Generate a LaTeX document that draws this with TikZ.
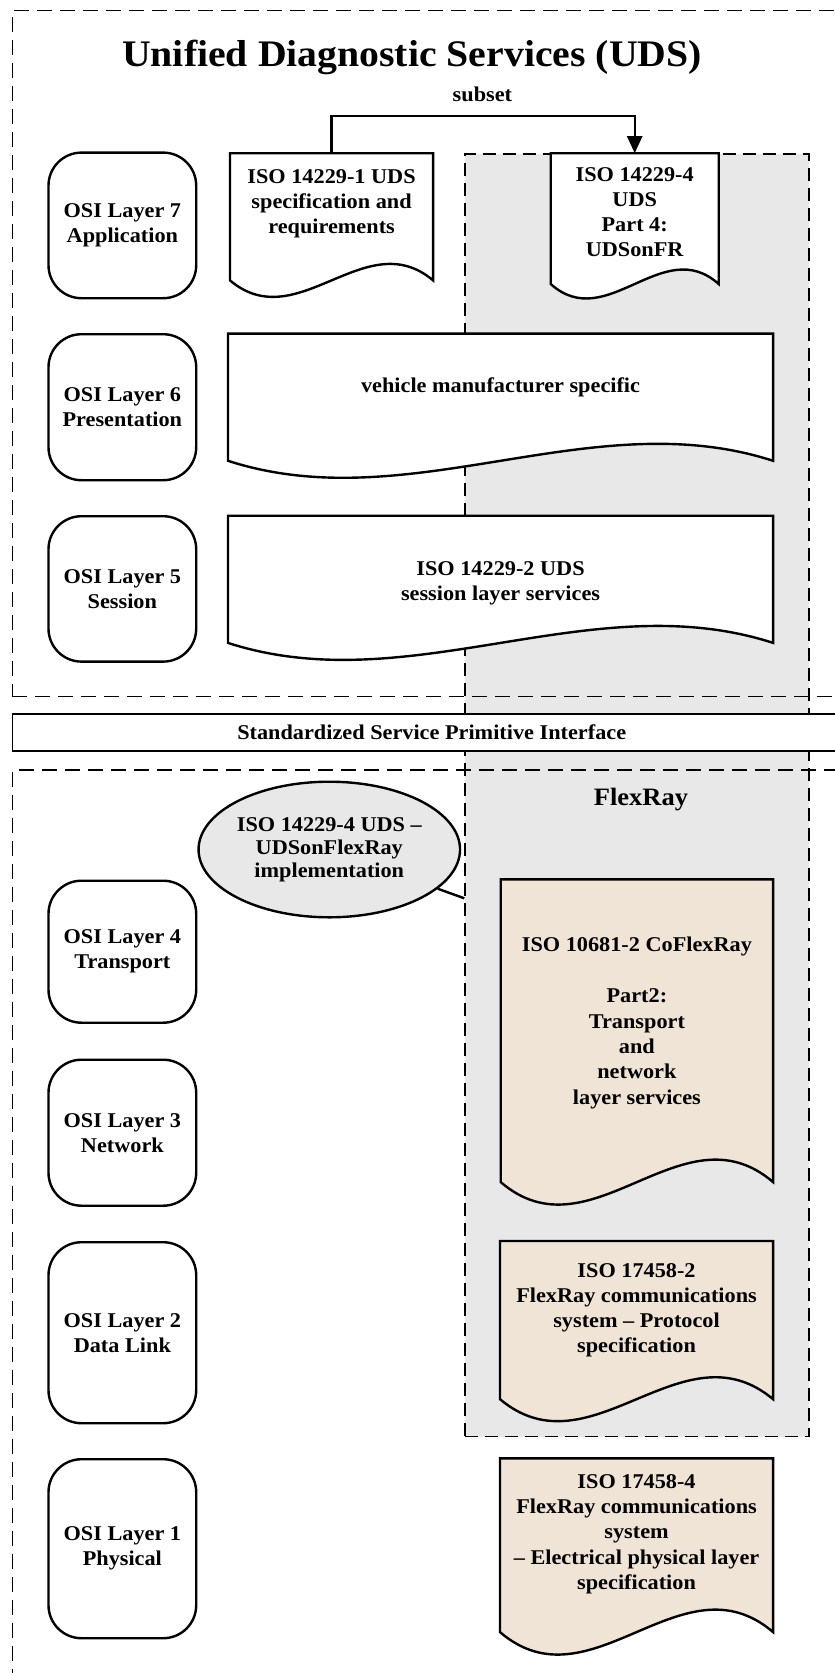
\documentclass[tikz,border=0pt]{standalone}
\usepackage{fontspec}
\setmainfont{Liberation Serif}[FakeStretch=1.06]
\usetikzlibrary{arrows.meta,calc,shapes.geometric}
\pgfdeclarelayer{bg}
\pgfsetlayers{bg,main}
\definecolor{zonegray}{RGB}{232,232,232}
\definecolor{beige}{RGB}{240,228,214}
\newcommand{\bdyfont}{\fontsize{21}{25}\selectfont\bfseries}
\newcommand{\docwave}[4][white]{%
  \path[docline, fill=#1] (#2.north west) -- (#2.north east) -- ($(#2.south east)+(0,#3)$)
   .. controls ($(#2.south west)!0.667!(#2.south east)+(0,{#3-3.46*#4})$)
   and ($(#2.south west)!0.333!(#2.south east)+(0,{#3+3.46*#4})$)
   .. ($(#2.south west)+(0,#3)$) -- cycle;}
\tikzset{
  frame/.style={draw, line width=1.4pt, dash pattern=on 15pt off 8pt, anchor=north west, inner sep=0pt},
  zone/.style={fill=zonegray, draw, line width=1.4pt, dash pattern=on 13pt off 7pt, anchor=north west, inner sep=0pt},
  osi/.style={draw, line width=2.4pt, rounded corners=33pt, minimum width=147.7pt, anchor=north west, align=center, font=\bdyfont, inner sep=0pt},
  doc/.style={anchor=north west, align=center, font=\bdyfont, inner sep=0pt},
  docline/.style={draw, line width=2.4pt, line join=miter},
  conn/.style={line width=2.4pt},
}
\begin{document}
\begin{tikzpicture}[x=1pt,y=-1pt]
\useasboundingbox (0,0) rectangle (835,1673);
\begin{pgfonlayer}{bg}
  \fill[white] (0,0) rectangle (835,1673);
  \node[zone, minimum width=344pt, minimum height=1282.8pt] (fz) at (464.3,153.2) {};
  \node[frame, minimum width=838.3pt, minimum height=686pt] (upper) at (11.7,10) {};
  \node[frame, minimum width=838.3pt, minimum height=920.7pt] (lower) at (11.7,769.3) {};
  \node[draw, line width=1.7pt, fill=white, anchor=north west, inner sep=0pt,
        minimum width=838.3pt, minimum height=36.7pt, font=\bdyfont] (sspi) at (11.7,713.3)
        {Standardized Service Primitive Interface};
\end{pgfonlayer}

% title and labels
\node[font=\fontsize{37.5}{45}\selectfont\bfseries, anchor=base] (title) at (412,66.7) {Unified Diagnostic Services (UDS)};
\node[font=\bdyfont, anchor=base] (subset) at (482.4,101) {subset};
\node[font=\fontsize{25}{30}\selectfont\bfseries, anchor=base] (flex) at (641,805) {FlexRay};

% OSI layers
\node[osi, minimum height=145.6pt] (o7) at (47.3,151.4) {OSI Layer 7\\Application};
\node[osi, minimum height=146pt] (o6) at (47.3,333) {OSI Layer 6\\Presentation};
\node[osi, minimum height=145.4pt] (o5) at (47.3,515) {OSI Layer 5\\Session};
\node[osi, minimum height=142pt] (o4) at (47.3,879.5) {OSI Layer 4\\Transport};
\node[osi, minimum height=146pt] (o3) at (47.3,1058.5) {OSI Layer 3\\Network};
\node[osi, minimum height=181pt] (o2) at (47.3,1241) {OSI Layer 2\\Data Link};
\node[osi, minimum height=179pt] (o1) at (47.3,1458) {OSI Layer 1\\Physical};

% documents
\node[doc, minimum width=202.7pt, minimum height=100pt] (d1) at (230,153.2)
  {ISO 14229-1 UDS\\specification and\\requirements};
\node[doc, minimum width=167.6pt, minimum height=117.6pt] (d2) at (550.7,153.2)
  {ISO 14229-4\\UDS\\Part 4:\\UDSonFR};
\node[doc, minimum width=544.7pt, minimum height=107pt] (d6) at (228,333.6)
  {vehicle manufacturer specific};
\node[doc, minimum width=544.7pt, minimum height=135.6pt] (d5) at (228,515.7)
  {ISO 14229-2 UDS\\session layer services};
\node[doc, minimum width=272pt, minimum height=287.2pt, font=\fontsize{21}{25.4}\selectfont\bfseries] (d4) at (500.7,879.3)
  {ISO 10681-2 CoFlexRay\\[25.4pt]Part2:\\Transport\\and\\network\\layer services};
\node[doc, minimum width=272.7pt, minimum height=138.6pt] (d2l) at (500,1241)
  {ISO 17458-2\\FlexRay communications\\system – Protocol\\specification};
\node[doc, minimum width=272.7pt, minimum height=151.4pt, font=\fontsize{21}{25.4}\selectfont\bfseries] (d1l) at (500,1458.3)
  {ISO 17458-4\\FlexRay communications\\system\\– Electrical physical layer\\specification};

\begin{pgfonlayer}{bg}
  \docwave{d1}{26.8}{16.5}
  \docwave{d2}{12.8}{14.5}
  \docwave{d6}{19.8}{17}
  \docwave{d5}{-8.8}{17}
  \docwave[beige]{d4}{15.2}{22.5}
  \docwave[beige]{d2l}{19.2}{22}
  \docwave[beige]{d1l}{22}{22.5}
\end{pgfonlayer}

% ellipse and connectors
\node[ellipse, draw, fill=zonegray, line width=2.4pt, minimum width=242.7pt, minimum height=135.6pt,
      inner sep=0pt, align=center, font=\fontsize{21}{23}\selectfont\bfseries] (ell) at (329.3,849.5)
  {ISO 14229-4 UDS –\\UDSonFlexRay\\implementation};
\coordinate (gconn) at (464.3,898.3);
\draw[conn] (ell) -- (gconn);
\draw[conn, -{Triangle[length=17pt,width=15pt]}] (d1.north) -- (d1.north |- 0,116) -| (d2.north);
\end{tikzpicture}
\end{document}
